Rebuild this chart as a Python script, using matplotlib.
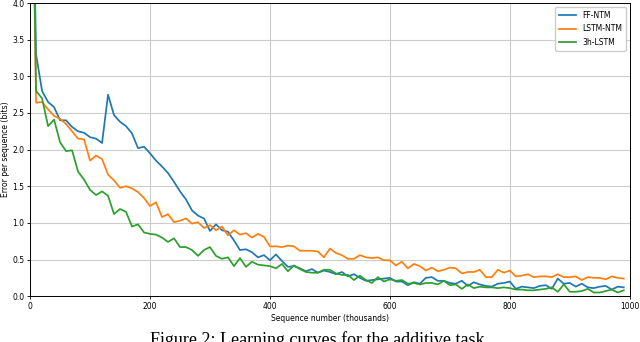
import numpy as np
import matplotlib
matplotlib.use("Agg")
import matplotlib.pyplot as plt

# sequence number (thousands), one point every 10k
steps = np.arange(0, 1000, 10)

ff_ntm = [8.0, 3.30, 2.80, 2.65, 2.58, 2.40, 2.40, 2.31, 2.25, 2.23,
          2.17, 2.15, 2.09, 2.75, 2.47, 2.38, 2.32, 2.22, 2.02, 2.04,
          1.95, 1.85, 1.77, 1.68, 1.56, 1.43, 1.32, 1.17, 1.10, 1.06,
          0.89, 0.98, 0.90, 0.88, 0.76, 0.63, 0.64, 0.60, 0.53, 0.56,
          0.49, 0.57, 0.48, 0.40, 0.41, 0.38, 0.34, 0.37, 0.32, 0.35,
          0.33, 0.30, 0.33, 0.27, 0.30, 0.25, 0.21, 0.22, 0.23, 0.24,
          0.25, 0.20, 0.20, 0.15, 0.19, 0.17, 0.25, 0.26, 0.21, 0.21,
          0.18, 0.17, 0.21, 0.14, 0.19, 0.16, 0.14, 0.13, 0.17, 0.18,
          0.20, 0.10, 0.13, 0.12, 0.11, 0.14, 0.15, 0.10, 0.24, 0.17,
          0.18, 0.13, 0.17, 0.12, 0.11, 0.13, 0.14, 0.09, 0.13, 0.12]

lstm_ntm = [8.0, 2.64, 2.65, 2.55, 2.46, 2.42, 2.35, 2.25, 2.15, 2.14,
            1.85, 1.92, 1.87, 1.66, 1.58, 1.48, 1.50, 1.47, 1.42, 1.34,
            1.23, 1.28, 1.08, 1.12, 1.01, 1.03, 1.06, 0.99, 1.01, 0.93,
            0.97, 0.90, 0.95, 0.83, 0.90, 0.84, 0.86, 0.80, 0.85, 0.81,
            0.68, 0.68, 0.67, 0.69, 0.68, 0.62, 0.62, 0.62, 0.61, 0.53,
            0.65, 0.59, 0.56, 0.51, 0.51, 0.56, 0.53, 0.52, 0.53, 0.49,
            0.49, 0.42, 0.47, 0.38, 0.44, 0.41, 0.35, 0.39, 0.34, 0.36,
            0.39, 0.38, 0.31, 0.33, 0.33, 0.36, 0.26, 0.26, 0.36, 0.32,
            0.35, 0.27, 0.28, 0.30, 0.26, 0.27, 0.27, 0.26, 0.30, 0.26,
            0.26, 0.27, 0.22, 0.26, 0.25, 0.25, 0.23, 0.27, 0.25, 0.24]

lstm_3h = [8.0, 2.80, 2.70, 2.32, 2.41, 2.10, 1.98, 1.99, 1.70, 1.59,
           1.45, 1.38, 1.43, 1.37, 1.12, 1.19, 1.15, 0.95, 0.98, 0.87,
           0.85, 0.84, 0.80, 0.74, 0.79, 0.67, 0.67, 0.63, 0.55, 0.63,
           0.67, 0.55, 0.51, 0.53, 0.41, 0.52, 0.40, 0.47, 0.43, 0.42,
           0.41, 0.38, 0.44, 0.34, 0.42, 0.37, 0.33, 0.32, 0.32, 0.36,
           0.36, 0.31, 0.29, 0.29, 0.22, 0.28, 0.22, 0.18, 0.26, 0.20,
           0.23, 0.21, 0.22, 0.17, 0.18, 0.16, 0.18, 0.18, 0.16, 0.21,
           0.15, 0.16, 0.10, 0.16, 0.11, 0.13, 0.12, 0.12, 0.11, 0.12,
           0.11, 0.09, 0.09, 0.08, 0.08, 0.09, 0.10, 0.12, 0.06, 0.16,
           0.06, 0.06, 0.07, 0.10, 0.05, 0.05, 0.07, 0.09, 0.05, 0.08]

series_names = ["FF-NTM", "LSTM-NTM", "3h-LSTM"]
colors = ["#1f77b4", "#ff7f0e", "#2ca02c"]

fig = plt.figure(figsize=(6.4, 3.42), dpi=100)
ax = fig.add_axes([0.047, 0.134, 0.937, 0.857])

for vals, name, c in zip([ff_ntm, lstm_ntm, lstm_3h], series_names, colors):
    ax.plot(steps, vals, color=c, lw=1.25, label=name)

ax.set_xlim(0, 1000)
ax.set_ylim(0, 4.0)
ax.set_xticks(np.arange(0, 1001, 200))
ax.set_yticks(np.arange(0, 4.01, 0.5))
ax.grid(True, color="#cccccc", lw=0.8)
ax.tick_params(labelsize=5.5, length=2.5, width=0.6, pad=1.5)
for s in ax.spines.values():
    s.set_linewidth(0.7)
ax.set_xlabel("Sequence number (thousands)", fontsize=5.5, labelpad=2)
ax.set_ylabel("Error per sequence (bits)", fontsize=5.5, labelpad=2)
ax.legend(loc="upper right", fontsize=5.5, handlelength=2.2,
          borderpad=0.5, labelspacing=0.6, framealpha=1, fancybox=True)

# caption sits at the very bottom and is partly cut off, as in the source
fig.text(0.5, 1 - 331 / 342, "Figure 2: Learning curves for the additive task.",
         ha="center", va="top", fontsize=13, family="Liberation Serif")

fig.savefig("out.png", dpi=100)
